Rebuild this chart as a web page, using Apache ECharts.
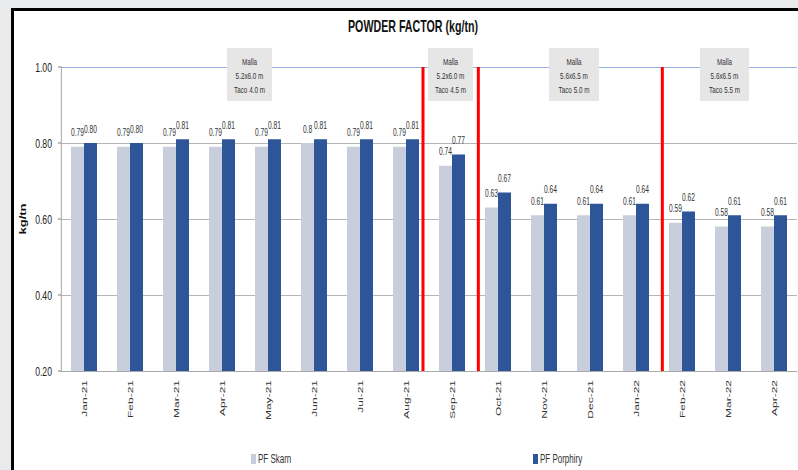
<!DOCTYPE html>
<html>
<head>
<meta charset="utf-8">
<script src="https://cdn.jsdelivr.net/npm/echarts@6/dist/echarts.min.js"></script>
<style>
  html, body { margin: 0; padding: 0; background: #e9eaec; overflow: hidden; }
  #frame { position: absolute; left: 11px; top: 8px; width: 800px; height: 480px;
           background: #ffffff; border-left: 3px solid #000; border-top: 3px solid #000; }
  #chart { position: absolute; left: 0; top: 0; height: 470px; transform-origin: 0 0; }
</style>
</head>
<body>
<div id="frame"></div>
<div id="chart"></div>
<script>
// Monthly powder factor by ore type
const months = ['Jan-21', 'Feb-21', 'Mar-21', 'Apr-21', 'May-21', 'Jun-21', 'Jul-21', 'Aug-21',
                'Sep-21', 'Oct-21', 'Nov-21', 'Dec-21', 'Jan-22', 'Feb-22', 'Mar-22', 'Apr-22'];
const pfSkarn    = [0.79, 0.79, 0.79, 0.79, 0.79, 0.8, 0.79, 0.79, 0.74, 0.63, 0.61, 0.61, 0.61, 0.59, 0.58, 0.58];
const pfPorphiry = [0.80, 0.80, 0.81, 0.81, 0.81, 0.81, 0.81, 0.81, 0.77, 0.67, 0.64, 0.64, 0.64, 0.62, 0.61, 0.61];
const yTicks = [0.20, 0.40, 0.60, 0.80, 1.00];

// Blast-pattern changes (position along the month axis) and their notes
const dividers = [7.87, 9.07, 13.07];
const patternNotes = [
  ['Malla', '5.2x6.0 m', 'Taco 4.0 m'],
  ['Malla', '5.2x6.0 m', 'Taco 4.5 m'],
  ['Malla', '5.6x6.5 m', 'Taco 5.0 m'],
  ['Malla', '5.6x6.5 m', 'Taco 5.5 m']
];

// The chart is laid out on a wider canvas and squeezed horizontally,
// which gives the condensed lettering of the printed report.
const K = 1.5;
const W = 798, H = 470;
const el = document.getElementById('chart');
el.style.width = (W * K) + 'px';
el.style.transform = 'scaleX(' + (1 / K) + ')';

const font = '"Liberation Sans", Arial, sans-serif';
const x = function (px) { return px * K; };

// Note boxes: [centerX, width] in page pixels
const noteBoxes = [[249.5, 45], [450.5, 45], [574, 50], [724.5, 49]];
const graphics = [];
noteBoxes.forEach(function (b, i) {
  graphics.push({
    type: 'rect', silent: true, z: 50,
    shape: { x: x(b[0] - b[1] / 2), y: 48, width: x(b[1]), height: 53 },
    style: { fill: '#e6e6e6' }
  });
  graphics.push({
    type: 'text', silent: true, z: 51,
    x: x(b[0]), y: 55,
    style: {
      text: patternNotes[i].join('\n'), align: 'center', verticalAlign: 'top',
      font: '9.5px ' + font, fill: '#333', lineHeight: 14
    }
  });
});

const chart = echarts.init(el, null, { renderer: 'svg', width: W * K, height: H });
chart.setOption({
  backgroundColor: 'transparent',
  animation: false,
  title: {
    text: 'POWDER FACTOR (kg/tn)',
    left: x(413), top: 19, textAlign: 'center', padding: 0,
    textStyle: { fontFamily: font, fontSize: 16, fontWeight: 'bold', color: '#111' }
  },
  legend: [
    { data: ['PF Skarn'], left: x(251), top: 453, padding: 0, itemWidth: x(5), itemHeight: 10, icon: 'rect',
      textStyle: { fontFamily: font, fontSize: 12, color: '#333', padding: [0, 0, 0, -2] } },
    { data: ['PF Porphiry'], left: x(533), top: 453, padding: 0, itemWidth: x(5), itemHeight: 10, icon: 'rect',
      textStyle: { fontFamily: font, fontSize: 12, color: '#333', padding: [0, 0, 0, -2] } }
  ],
  grid: { left: x(61), right: x(1), top: 67, bottom: 99, containLabel: false },
  xAxis: [
    {
      type: 'category', data: months, boundaryGap: true,
      axisLine: { lineStyle: { color: '#a6a6a6', width: 1 } },
      axisTick: { show: false },
      axisLabel: { rotate: 90, margin: 9, fontFamily: font, fontSize: 12, color: '#333', interval: 0 }
    },
    { type: 'value', min: 0, max: months.length, show: false }
  ],
  yAxis: {
    type: 'value', min: yTicks[0], max: yTicks[yTicks.length - 1], interval: 0.2,
    name: 'kg/tn', nameLocation: 'middle', nameGap: 51, nameRotate: 90,
    nameTextStyle: { fontFamily: font, fontSize: 13, fontWeight: 'bold', color: '#111' },
    axisLine: { show: true, lineStyle: { color: '#a6a6a6', width: K } },
    axisTick: { show: true, length: x(3), lineStyle: { color: '#a6a6a6', width: K } },
    axisLabel: { fontFamily: font, fontSize: 13, color: '#222', margin: x(9),
                 formatter: function (v) { return v.toFixed(2); } },
    splitLine: { show: true, lineStyle: { color: ['#a6a6a6', '#a6a6a6', '#a6a6a6', '#a6a6a6', '#7fa0d8'], width: 1 } }
  },
  graphic: graphics,
  series: [
    {
      name: 'PF Skarn', type: 'bar', data: pfSkarn, barWidth: x(13), barGap: '0%',
      itemStyle: { color: '#c8cedb' },
      label: { show: true, position: 'top', distance: 9, fontFamily: font, fontSize: 10, color: '#333',
               formatter: function (p) { return String(p.value); } }
    },
    {
      name: 'PF Porphiry', type: 'bar', data: pfPorphiry, barWidth: x(13), barGap: '0%',
      itemStyle: { color: '#2e5597' },
      label: { show: true, position: 'top', distance: 9, fontFamily: font, fontSize: 10, color: '#333',
               formatter: function (p) { return p.value.toFixed(2); } }
    },
    {
      name: 'dividers', type: 'line', xAxisIndex: 1, data: [], silent: true,
      markLine: {
        symbol: 'none', silent: true, animation: false,
        label: { show: false },
        lineStyle: { color: '#ff0000', width: x(3), type: 'solid' },
        emphasis: { disabled: true },
        data: dividers.map(function (d) { return { xAxis: d }; })
      },
      z: 10
    }
  ]
});
</script>
</body>
</html>
